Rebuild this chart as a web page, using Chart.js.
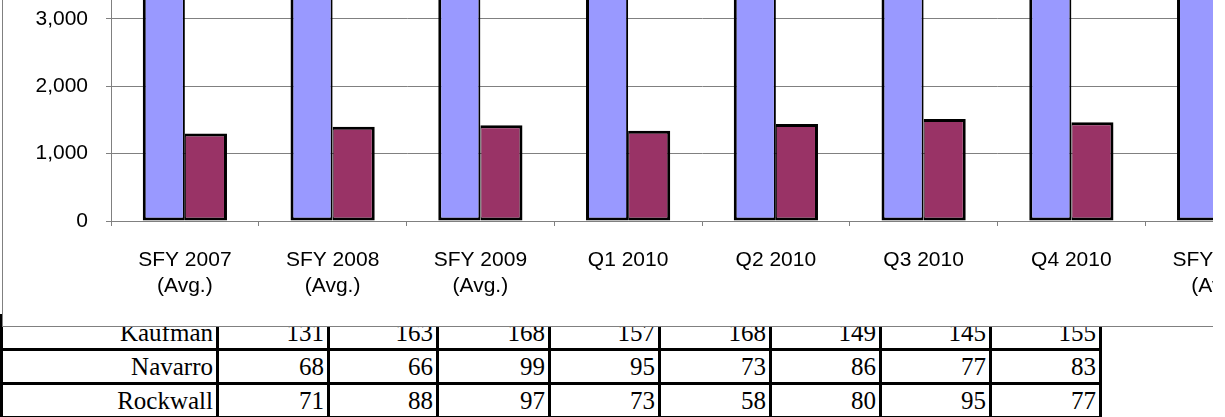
<!DOCTYPE html>
<html>
<head>
<meta charset="utf-8">
<script src="https://cdn.jsdelivr.net/npm/chart.js@4.4.1/dist/chart.umd.min.js"></script>
<style>
  html, body {
    margin: 0;
    padding: 0;
    width: 1225px;
    height: 417px;
    overflow: hidden;
    background: #fff;
  }
  /* chart frame that sits over the table, clipped on the right like the source */
  #frame {
    position: absolute;
    left: 2px;
    top: 0;
    width: 1210px;
    height: 326px;
    background: #fff;
    border-left: 1px solid #808080;
    border-bottom: 1px solid #808080;
    overflow: hidden;
    z-index: 2;
  }
  #wrap {
    position: absolute;
    left: -3px;
    top: -79px;
    width: 1310px;
    height: 380px;
  }
  #tbl {
    position: absolute;
    left: 0;
    top: 314px;
    border-collapse: collapse;
    table-layout: fixed;
    font-family: "Liberation Serif", "Times New Roman", serif;
    font-size: 25px;
    z-index: 1;
  }
  #tbl td {
    border: 3px solid #000;
    height: 31px;
    line-height: 31px;
    padding: 0 3px;
    text-align: right;
    white-space: nowrap;
  }
</style>
</head>
<body>
<table id="tbl">
  <colgroup>
    <col style="width:216px">
    <col style="width:111px">
    <col style="width:109px">
    <col style="width:112px">
    <col style="width:110px">
    <col style="width:111px">
    <col style="width:110px">
    <col style="width:110px">
    <col style="width:110px">
  </colgroup>
  <tbody id="tb"></tbody>
</table>
<div id="frame">
  <div id="wrap"><canvas id="chart"></canvas></div>
</div>
<script>
// categories along the x axis
var periods = [
  ["SFY 2007", "(Avg.)"],
  ["SFY 2008", "(Avg.)"],
  ["SFY 2009", "(Avg.)"],
  "Q1 2010",
  "Q2 2010",
  "Q3 2010",
  "Q4 2010",
  ["SFY 2010", "(Avg.)"]
];

// blue series runs off the top of the picture, values are estimates
var seriesA = [5310, 5620, 5790, 5480, 5710, 5960, 5840, 5750];
// maroon series
var seriesB = [1300, 1400, 1420, 1340, 1440, 1515, 1465, 1440];

// y axis ticks
var yMin = 0;
var yMax = 4000;
var yStep = 1000;

// table rows under the chart
var tableRows = ["Kaufman", "Navarro", "Rockwall"];
var kaufman = [131, 163, 168, 157, 168, 149, 145, 155];
var navarro = [68, 66, 99, 95, 73, 86, 77, 83];
var rockwall = [71, 88, 97, 73, 58, 80, 95, 77];

// build the table
var tb = document.getElementById("tb");
[kaufman, navarro, rockwall].forEach(function (vals, i) {
  var tr = document.createElement("tr");
  var th = document.createElement("td");
  th.textContent = tableRows[i];
  tr.appendChild(th);
  vals.forEach(function (v) {
    var td = document.createElement("td");
    td.textContent = v;
    tr.appendChild(td);
  });
  tb.appendChild(tr);
});

Chart.defaults.font.family = "'Liberation Sans', Arial, sans-serif";
Chart.defaults.font.size = 21;
Chart.defaults.color = "#000";

var ctx = document.getElementById("chart").getContext("2d");
var myChart = new Chart(ctx, {
  type: "bar",
  data: {
    labels: periods,
    datasets: [
      {
        label: "Series 1",
        data: seriesA,
        backgroundColor: "#9999FF",
        borderColor: "#000",
        // shared edge with the maroon bar is split between the two
        borderWidth: { top: 3, left: 3, bottom: 3, right: 2 },
        borderSkipped: false,
        categoryPercentage: 0.57,
        barPercentage: 1.0
      },
      {
        label: "Series 2",
        data: seriesB,
        backgroundColor: "#993366",
        borderColor: "#000",
        borderWidth: { top: 3, left: 1, bottom: 3, right: 3 },
        borderSkipped: false,
        categoryPercentage: 0.57,
        barPercentage: 1.0
      }
    ]
  },
  options: {
    responsive: true,
    maintainAspectRatio: false,
    animation: false,
    layout: {
      padding: { top: 20, right: 17, bottom: 0, left: 0 }
    },
    plugins: {
      legend: { display: false },
      tooltip: { enabled: false }
    },
    scales: {
      x: {
        grid: {
          display: true,
          drawOnChartArea: false,
          drawTicks: true,
          tickLength: 5,
          color: "#808080",
          offset: true
        },
        border: { display: true, color: "#808080", width: 1 },
        ticks: {
          autoSkip: false,
          maxRotation: 0,
          minRotation: 0,
          padding: 22,
          font: { size: 21, lineHeight: 1.2 }
        },
        afterFit: function (scale) {
          scale.height = 80;
        }
      },
      y: {
        min: yMin,
        max: yMax,
        grid: {
          color: "#808080",
          lineWidth: 1,
          tickLength: 5
        },
        border: { display: true, color: "#808080", width: 1 },
        ticks: {
          stepSize: yStep,
          padding: 18,
          font: { size: 21 }
        },
        afterFit: function (scale) {
          scale.width = 111;
        }
      }
    }
  }
});
</script>
</body>
</html>
